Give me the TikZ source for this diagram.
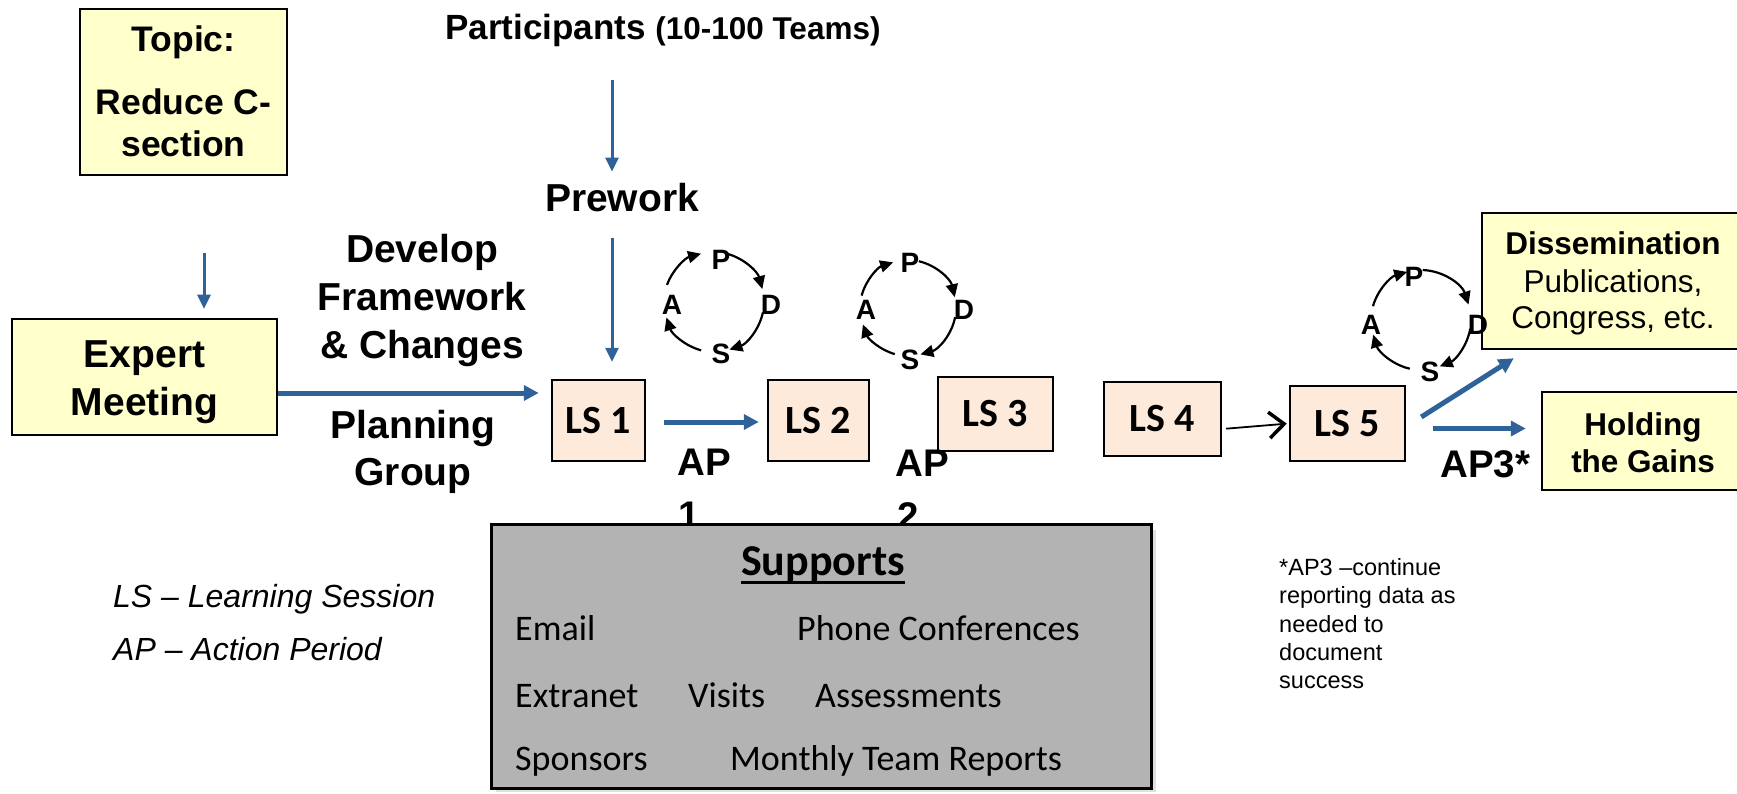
\documentclass[tikz,border=0pt]{standalone}
\usepackage{fontspec}
\setmainfont{Liberation Sans}
\newfontfamily\calfont{Carlito}
\usetikzlibrary{arrows.meta}
\definecolor{yfill}{HTML}{FFFFCC}
\definecolor{lsfill}{HTML}{FDEADA}
\definecolor{supfill}{HTML}{B3B3B3}
\definecolor{apblue}{HTML}{2E6299}
\tikzset{
  ybox/.style={draw=black, line width=2.5pt, fill=yfill, inner sep=0},
  lsbox/.style={draw=black, line width=2.5pt, fill=lsfill, inner sep=0,
    font=\calfont\bfseries\fontsize{40}{40}\selectfont},
  txt/.style={inner sep=0, anchor=base},
  txtw/.style={inner sep=0, anchor=base west},
  bigb/.style={font=\bfseries\fontsize{39}{39}\selectfont},
  topb/.style={font=\bfseries\fontsize{35.5}{35.5}\selectfont},
  midb/.style={font=\bfseries\fontsize{31.5}{31.5}\selectfont},
  midr/.style={font=\fontsize{31.5}{31.5}\selectfont},
  apb/.style={font=\bfseries\fontsize{38.5}{38.5}\selectfont},
  calr/.style={font=\calfont\fontsize{36}{36}\selectfont},
  noter/.style={font=\fontsize{23.5}{23.5}\selectfont},
  legi/.style={font=\itshape\fontsize{32}{32}\selectfont},
  pdsal/.style={inner sep=0, font=\bfseries\fontsize{28}{28}\selectfont},
  pdsaarc/.style={draw=black, line width=2.2pt, -{Triangle[length=13pt,width=12pt]}},
  thinarrow/.style={draw=apblue, line width=3pt, -{Triangle[length=14pt,width=13pt]}},
  thickarrow/.style={draw=apblue, line width=5pt, -{Triangle[length=15pt,width=15pt]}},
  blackarrow/.style={draw=black, line width=1.8pt, -{Straight Barb[length=15pt,width=26pt,line width=3.5pt]}},
}
\begin{document}
\begin{tikzpicture}[x=1pt,y=1pt]
\useasboundingbox (0,0) rectangle (1737,-794);
\clip (0,0) rectangle (1737,-794);

% Topic box
\node[ybox, minimum width=207, minimum height=166] (topic) at (183.5,-92) {};
\node[txt, topb] (topicA) at (183.5,-52) {Topic:};
\node[txt, topb] (topicB) at (183.5,-115) {Reduce C-};
\node[txt, topb] (topicC) at (183.5,-157) {section};

% Participants
\node[txtw, font=\bfseries\fontsize{35}{35}\selectfont] (part) at (445,-40)
  {Participants {\fontsize{31.5}{32}\selectfont (10-100 Teams)}};
\coordinate (px) at (612,0);
\node[txt, bigb] (prework) at (622,-212) {Prework};

% Develop / Planning
\node[txt, bigb] (dev1) at (422,-263) {Develop};
\node[txt, bigb] (dev2) at (422,-310.5) {Framework};
\node[txt, bigb] (dev3) at (422,-358) {\& Changes};
\node[txt, bigb] (plan1) at (413,-438) {Planning};
\node[txt, bigb] (plan2) at (413,-485) {Group};

% Expert meeting
\node[ybox, minimum width=265, minimum height=116] (expert) at (144.5,-377) {};
\node[txt, bigb] (expA) at (144.5,-367) {Expert};
\node[txt, bigb] (expB) at (144.5,-415) {Meeting};

% LS boxes
\node[lsbox, minimum width=93, minimum height=81] (ls1) at (598.5,-420.5) {LS 1};
\node[lsbox, minimum width=101, minimum height=81] (ls2) at (818.5,-420.5) {LS 2};
\node[lsbox, minimum width=115, minimum height=74] (ls3) at (995.5,-414) {LS 3};
\node[lsbox, minimum width=117, minimum height=74] (ls4) at (1162.5,-419) {LS 4};
\node[lsbox, minimum width=115, minimum height=75] (ls5) at (1347.5,-423.5) {LS 5};

% AP labels
\node[txtw, apb] (ap1a) at (677,-475) {AP};
\node[txtw, apb] (ap1b) at (678,-528) {1};
\node[txtw, apb] (ap2a) at (895,-476) {AP};
\node[txtw, apb] (ap2b) at (897,-529) {2};
\node[txtw, apb] (ap3) at (1440,-477) {AP3*};

% Right boxes
\node[ybox, minimum width=278, minimum height=136] (dissem) at (1621,-281) {};
\node[txt, midb] (disA) at (1613,-255) {Dissemination};
\node[txt, midr] (disB) at (1613,-292) {Publications,};
\node[txt, midr] (disC) at (1613,-328) {Congress, etc.};
\node[ybox, minimum width=218, minimum height=98] (hold) at (1651,-441) {};
\node[txt, midb] (holdA) at (1643,-435) {Holding};
\node[txt, midb] (holdB) at (1643,-472) {the Gains};

% Blue arrows
\coordinate (tx) at (204,0);
\draw[thinarrow, shorten <=77, shorten >=9] (topic.south -| tx) -- (expert.north -| tx);
\draw[thinarrow, shorten <=33, shorten >=12] (part.south -| px) -- (prework.north -| px);
\draw[thinarrow, shorten <=25, shorten >=17] (prework.south -| px) -- (ls1.north -| px);
\draw[thickarrow, shorten >=12] ([yshift=-16pt]expert.east) -- ([yshift=-16pt]expert.east -| ls1.west);
\draw[thickarrow, shorten <=18, shorten >=8] ([yshift=-1.5pt]ls1.east) -- ([yshift=-1.5pt]ls2.west);
\draw[thickarrow] ([shift={(15,6.5)}]ls5.east) -- ([shift={(33,-8)}]dissem.south west);
\draw[thickarrow] ([shift={(27,-5)}]ls5.east) -- ([shift={(-15,12.5)}]hold.west);
\draw[blackarrow, shorten <=4, shorten >=2] ([yshift=-10pt]ls4.east) -- (ls5.west);

% PDSA cycles
\begin{scope}[shift={(714,-302)}]
  \node[pdsal] (c1P) at (7,42) {P};
  \node[pdsal] (c1D) at (57,-3) {D};
  \node[pdsal] (c1S) at (7,-52) {S};
  \node[pdsal] (c1A) at (-42,-3) {A};
  \draw[pdsaarc] (160:50) arc[start angle=160,end angle=105,radius=50];
  \draw[pdsaarc] (75:50) arc[start angle=75,end angle=15,radius=50];
  \draw[pdsaarc] (-12:50) arc[start angle=-12,end angle=-72,radius=50];
  \draw[pdsaarc] (-105:50) arc[start angle=-105,end angle=-162,radius=50];
\end{scope}
\begin{scope}[shift={(908,-308)}]
  \node[pdsal] (c2P) at (2,45) {P};
  \node[pdsal] (c2D) at (56,-2) {D};
  \node[pdsal] (c2S) at (2,-52) {S};
  \node[pdsal] (c2A) at (-42,-2) {A};
  \draw[pdsaarc] (165:48) arc[start angle=165,end angle=108,radius=48];
  \draw[pdsaarc] (77:48) arc[start angle=77,end angle=13,radius=48];
  \draw[pdsaarc] (-11:48) arc[start angle=-11,end angle=-75,radius=48];
  \draw[pdsaarc] (-106:48) arc[start angle=-106,end angle=-160,radius=48];
\end{scope}
\begin{scope}[shift={(1421,-320)}]
  \node[pdsal] (c3P) at (-7,43) {P};
  \node[pdsal] (c3D) at (57,-5) {D};
  \node[pdsal] (c3S) at (9,-52) {S};
  \node[pdsal] (c3A) at (-50,-5) {A};
  \draw[pdsaarc] (164:50) arc[start angle=164,end angle=106,radius=50];
  \draw[pdsaarc] (88:50) arc[start angle=88,end angle=18,radius=50];
  \draw[pdsaarc] (-10:50) arc[start angle=-10,end angle=-68,radius=50];
  \draw[pdsaarc] (-103:50) arc[start angle=-103,end angle=-163,radius=50];
\end{scope}

% Supports box
\fill[black!12] (496,-530) rectangle (1156,-792);
\node[draw=black, line width=3pt, fill=supfill, minimum width=660, minimum height=264, inner sep=0] (sup) at (821,-656) {};
\node[txt, font=\calfont\bfseries\fontsize{44}{44}\selectfont] (supT) at (823,-575) {Supports};
\draw[line width=2.5pt] ([yshift=-7.5pt]supT.base west) -- ([yshift=-7.5pt]supT.base east);
\node[txtw, calr] (s1) at (515,-640) {Email};
\node[txtw, calr] (s2) at (797,-640) {Phone Conferences};
\node[txtw, calr] (s3) at (515,-707) {Extranet};
\node[txtw, calr] (s4) at (688,-707) {Visits};
\node[txtw, calr] (s5) at (815,-707) {Assessments};
\node[txtw, calr] (s6) at (515,-770) {Sponsors};
\node[txtw, calr] (s7) at (730,-770) {Monthly Team Reports};

% Note
\node[txtw, noter] (n1) at (1279,-575) {*AP3 –continue};
\node[txtw, noter] (n2) at (1279,-603.5) {reporting data as};
\node[txtw, noter] (n3) at (1279,-632) {needed to};
\node[txtw, noter] (n4) at (1279,-660) {document};
\node[txtw, noter] (n5) at (1279,-688) {success};

% Legend
\node[txtw, legi] (leg1) at (113,-607) {LS – Learning Session};
\node[txtw, legi] (leg2) at (113,-660) {AP – Action Period};
\end{tikzpicture}
\end{document}
